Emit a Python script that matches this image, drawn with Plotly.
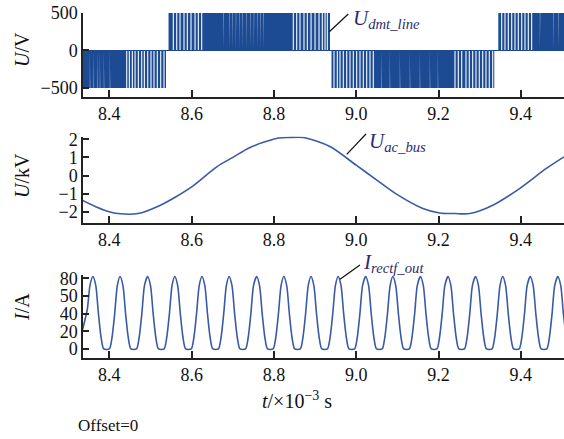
import plotly.graph_objects as go

# ---------------- data ----------------
# Panel 1: U_dmt_line (PWM), half-cycle segments and visible white gaps (x 10^-3 s)
seg_start = [8.330, 8.5439, 8.9400, 9.3453]
seg_end = [8.5378, 8.9363, 9.3356, 9.520]
seg_level = [-500, 500, -500, 500]
gaps_wide = [8.4423, 8.4486, 8.4559, 8.4625, 8.4705, 8.4787, 8.4851, 8.4933, 8.5013, 8.5086,
             8.5166, 8.5249, 8.5329,
             8.5555, 8.5638, 8.5718, 8.5815, 8.5895, 8.5985, 8.6083, 8.6163, 8.6245,
             8.8471, 8.8554, 8.8634, 8.8731, 8.8812, 8.8902, 8.8999, 8.9096, 8.9176, 8.9242, 8.9298,
             8.9460, 8.9541, 8.9606, 8.9686, 8.9769, 8.9849, 8.9929, 9.0012, 9.0092, 9.0172, 9.0255,
             9.0335, 9.0415,
             9.2401, 9.2481, 9.2564, 9.2668, 9.2748, 9.2831, 9.2911, 9.2991, 9.3074, 9.3154, 9.3234,
             9.3317,
             9.3536, 9.3616, 9.3696, 9.3779, 9.3859, 9.3939, 9.4022, 9.4102, 9.4182, 9.4264]
gaps_thin = [8.3531, 8.3611, 8.3708, 8.3774, 8.3871, 8.4017,
             8.6770, 8.6916, 8.6999, 8.7079, 8.7159, 8.7242, 8.7339, 8.7436, 8.7516, 8.7597, 8.7679,
             8.7742,
             9.0620, 9.0821, 9.1065, 9.1308, 9.1551, 9.1794, 9.1988,
             9.4468, 9.4791, 9.4912]

# Panel 2: U_ac_bus (kV)
t_ac = [8.335, 8.370, 8.402, 8.420, 8.470, 8.523, 8.560, 8.600, 8.661, 8.700, 8.742, 8.806,
        8.835, 8.871, 8.936, 9.000, 9.050, 9.096, 9.162, 9.203, 9.240, 9.276, 9.332, 9.397,
        9.462, 9.505]
u_ac = [-1.37, -1.75, -2.02, -2.10, -2.10, -1.65, -1.20, -0.63, 0.48, 1.00, 1.55, 2.05,
        2.10, 2.10, 1.60, 0.57, -0.25, -1.00, -1.82, -2.07, -2.10, -2.10, -1.64, -0.72,
        0.39, 1.03]

# Panel 3: I_rectf_out (A)
t_i = [8.335, 8.3465, 8.353,
       8.360, 8.367, 8.3735, 8.380, 8.3865, 8.400, 8.4065, 8.413, 8.4195,
       8.426, 8.433, 8.4395, 8.446, 8.4525, 8.466, 8.4725, 8.479, 8.4855,
       8.493, 8.500, 8.5065, 8.513, 8.5195, 8.533, 8.5395, 8.546, 8.5525,
       8.559, 8.566, 8.5725, 8.579, 8.5855, 8.599, 8.6055, 8.612, 8.6185,
       8.625, 8.632, 8.6385, 8.645, 8.6515, 8.665, 8.6715, 8.678, 8.6845,
       8.691, 8.698, 8.7045, 8.711, 8.7175, 8.731, 8.7375, 8.744, 8.7505,
       8.758, 8.765, 8.7715, 8.778, 8.7845, 8.798, 8.8045, 8.811, 8.8175,
       8.824, 8.831, 8.8375, 8.844, 8.8505, 8.864, 8.8705, 8.877, 8.8835,
       8.890, 8.897, 8.9035, 8.910, 8.9165, 8.930, 8.9365, 8.943, 8.9495,
       8.956, 8.963, 8.9695, 8.976, 8.9825, 8.996, 9.0025, 9.009, 9.0155,
       9.023, 9.030, 9.0365, 9.043, 9.0495, 9.063, 9.0695, 9.076, 9.0825,
       9.089, 9.096, 9.1025, 9.109, 9.1155, 9.129, 9.1355, 9.142, 9.1485,
       9.156, 9.163, 9.1695, 9.176, 9.1825, 9.196, 9.2025, 9.209, 9.2155,
       9.223, 9.230, 9.2365, 9.243, 9.2495, 9.263, 9.2695, 9.276, 9.2825,
       9.290, 9.297, 9.3035, 9.310, 9.3165, 9.330, 9.3365, 9.343, 9.3495,
       9.356, 9.363, 9.3695, 9.376, 9.3825, 9.396, 9.4025, 9.409, 9.4155,
       9.423, 9.430, 9.4365, 9.443, 9.4495, 9.463, 9.4695, 9.476, 9.4825,
       9.490, 9.497, 9.5035, 9.510]
i_out = [22, 45, 72,
         82, 72, 40, 13, 0, 0, 13, 40, 72,
         82, 72, 40, 13, 0, 0, 13, 40, 72,
         82, 72, 40, 13, 0, 0, 13, 40, 72,
         82, 72, 40, 13, 0, 0, 13, 40, 72,
         82, 72, 40, 13, 0, 0, 13, 40, 72,
         82, 72, 40, 13, 0, 0, 13, 40, 72,
         82, 72, 40, 13, 0, 0, 13, 40, 72,
         82, 72, 40, 13, 0, 0, 13, 40, 72,
         82, 72, 40, 13, 0, 0, 13, 40, 72,
         82, 72, 40, 13, 0, 0, 13, 40, 72,
         82, 72, 40, 13, 0, 0, 13, 40, 72,
         82, 72, 40, 13, 0, 0, 13, 40, 72,
         82, 72, 40, 13, 0, 0, 13, 40, 72,
         82, 72, 40, 13, 0, 0, 13, 40, 72,
         82, 72, 40, 13, 0, 0, 13, 40, 72,
         82, 72, 40, 13, 0, 0, 13, 40, 72,
         82, 72, 40, 13, 0, 0, 13, 40, 72,
         82, 72, 40, 13]

x_ticks = [8.4, 8.6, 8.8, 9.0, 9.2, 9.4]
y1_ticks = [-500, 0, 500]
y2_ticks = [-2, -1, 0, 1, 2]
y3_ticks = [0, 20, 40, 60, 80]
y3_ticktext = ["0", "20", "40", "50", "80"]

# ---------------- build PWM path ----------------
W_WIDE = 0.0026
W_THIN = 0.0008
gap_list = sorted([(g, W_WIDE) for g in gaps_wide] + [(g, W_THIN) for g in gaps_thin])
px, py = [], []
for t0, t1, lev in zip(seg_start, seg_end, seg_level):
    px += [t0, t0]
    py += [0, lev]
    for g, w in gap_list:
        if t0 < g < t1:
            px += [g - w / 2, g - w / 2, g + w / 2, g + w / 2]
            py += [lev, 0, 0, lev]
    px += [t1, t1]
    py += [lev, 0]

PWM_COLOR = "#1d4b93"
LINE_COLOR = "#3a5aa6"
TXT_COLOR = "#2b2c6e"
FONT = "Liberation Serif, Times New Roman, serif"

fig = go.Figure()
fig.add_trace(go.Scatter(x=px, y=py, mode="lines", fill="tozeroy", fillcolor=PWM_COLOR,
                         line=dict(width=0, color=PWM_COLOR), xaxis="x", yaxis="y",
                         hoverinfo="skip"))
fig.add_trace(go.Scatter(x=t_ac, y=u_ac, mode="lines", line=dict(color=LINE_COLOR, width=1.6,
                         shape="spline", smoothing=0.8), xaxis="x2", yaxis="y2"))
fig.add_trace(go.Scatter(x=t_i, y=i_out, mode="lines", line=dict(color=LINE_COLOR, width=1.6,
                         shape="spline", smoothing=0.7), xaxis="x3", yaxis="y3"))

H = 439.0
PW = 481.0
L = 83.0
def dom(top_px, bot_px):
    return [1 - bot_px / H, 1 - top_px / H]
def xp(p):
    return (p - L) / PW
def yp(p):
    return 1 - p / H

xcommon = dict(range=[8.336, 9.505], tickvals=x_ticks, tickformat=".1f", ticks="inside",
               ticklen=7, tickwidth=1.5, tickcolor="#222", showline=True, linecolor="#222",
               linewidth=1.5, showgrid=False, zeroline=False, automargin=False,
               tickfont=dict(family=FONT, size=18, color="#111"))
ycommon = dict(ticks="inside", ticklen=6, tickwidth=1.5, tickcolor="#222", showline=True,
               linecolor="#222", linewidth=1.5, showgrid=False, automargin=False,
               tickfont=dict(family=FONT, size=18, color="#111"))

fig.update_layout(
    width=564, height=439,
    margin=dict(l=83, r=0, t=0, b=0, autoexpand=False),
    paper_bgcolor="white", plot_bgcolor="white",
    showlegend=False,
    xaxis=dict(domain=[0, 1], anchor="y", **xcommon),
    xaxis2=dict(domain=[0, 1], anchor="y2", **xcommon),
    xaxis3=dict(domain=[0, 1], anchor="y3", **xcommon),
    yaxis=dict(domain=dom(12.5, 97), anchor="x", range=[-620, 505], tickvals=y1_ticks,
               zeroline=True, zerolinecolor=PWM_COLOR, zerolinewidth=1.2, **ycommon),
    yaxis2=dict(domain=dom(136.6, 222.6), anchor="x2", range=[-2.6, 2.15], tickvals=y2_ticks,
                zeroline=False, **ycommon),
    yaxis3=dict(domain=dom(274.8, 357.8), anchor="x3", range=[-10, 84], tickvals=y3_ticks,
                ticktext=y3_ticktext, zeroline=False, **ycommon),
)

# leader lines (pixel positions converted to paper fractions)
leaders = [(329.3, 31.7, 348.3, 14.0),
           (346.7, 154.3, 366.0, 134.0),
           (340.0, 279.3, 360.0, 265.0)]
for x0, y0, x1, y1 in leaders:
    fig.add_shape(type="line", xref="paper", yref="paper", x0=xp(x0), y0=yp(y0),
                  x1=xp(x1), y1=yp(y1), line=dict(color="#111", width=1.2))

labels = [(351.0, 19.0, "<i>U</i><sub><i>dmt_line</i></sub>"),
          (367.0, 142.0, "<i>U</i><sub><i>ac_bus</i></sub>"),
          (360.5, 263.0, "<i>I</i><sub><i>rectf_out</i></sub>")]
for x, y, txt in labels:
    fig.add_annotation(xref="paper", yref="paper", x=xp(x), y=yp(y), text=txt, showarrow=False,
                       xanchor="left", yanchor="middle",
                       font=dict(family=FONT, size=21, color=TXT_COLOR))

# y-axis titles
for ypx, txt in [(50, "<i>U</i>/V"), (176, "<i>U</i>/kV"), (307, "<i>I</i>/A")]:
    fig.add_annotation(xref="paper", yref="paper", x=xp(22), y=yp(ypx),
                       text=txt, textangle=-90, showarrow=False, xanchor="center",
                       yanchor="middle", font=dict(family=FONT, size=20, color="#111"))

fig.add_annotation(xref="paper", yref="paper", x=xp(297), y=yp(400),
                   text="<i>t</i>/×10<sup>−3</sup> s", showarrow=False, xanchor="center",
                   yanchor="middle", font=dict(family=FONT, size=20, color="#111"))
fig.add_annotation(xref="paper", yref="paper", x=xp(76), y=yp(425),
                   text="Offset=0", showarrow=False, xanchor="left",
                   yanchor="middle", font=dict(family=FONT, size=17, color="#111"))

fig.write_html("out.html")
